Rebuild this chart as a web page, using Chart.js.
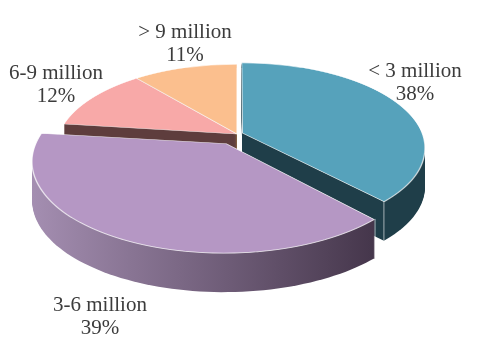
<!DOCTYPE html>
<html>
<head>
<meta charset="utf-8">
<script src="https://cdn.jsdelivr.net/npm/chart.js@4.4.0/dist/chart.umd.min.js"></script>
<style>
    html, body { margin: 0; padding: 0; background: #ffffff; }
    #wrap { width: 480px; height: 358px; position: relative; }
</style>
</head>
<body>
<div id="wrap"><canvas id="chart"></canvas></div>
<script>
// Household income groups and their share (%)
const categories = ['< 3 million', '3-6 million', '6-9 million', '> 9 million'];
const shares = [38, 39, 12, 11];

// Looks
const topColours = ['#56a2bb', '#b597c4', '#f8a9a8', '#fbbf8e'];
const wallColours = [
    ['#1f3e49', '#1f3e49'],
    ['#a48eb1', '#45364b'],
    ['#5e3d3d', '#5e3d3d'],
    ['#8b6744', '#8b6744'],
];
const explodePx = [6, 24, 0, 0];
// centre x and first baseline of every data label
const labelSpots = [[415, 77], [100, 311], [56, 79], [185, 38]];

const TILT = 0.445;       // vertical squash of the disc
const SQUASH_X = 0.968;   // horizontal scale at the centre
const PERSP = 0.000936;   // perspective strength (per pixel of depth)
const DEPTH = 39;         // thickness of the pie in pixels

// flat pie coordinates -> tilted screen coordinates
function project(x, y, cx, cy) {
    const v = y - cy;
    const q = 1 - PERSP * v;
    return [cx + (x - cx) * SQUASH_X / q, cy + TILT * v / q];
}

function unprojectY(Y, cy) {
    const dy = Y - cy;
    return dy / (TILT + PERSP * dy);
}

/**
 * Draw fn in one-pixel strips, each with the affine map that best fits
 * the perspective tilt there (canvas cannot do a projective map)
 */
function drawTilted(chart, cx, cy, yFrom, yTo, fn) {
    const ctx = chart.ctx;
    for (let Y0 = yFrom; Y0 < yTo; Y0++) {
        const Y1 = Y0 + 1;
        const v0 = unprojectY(Y0, cy);
        const v1 = unprojectY(Y1, cy);
        const vm = (v0 + v1) / 2;
        const m = SQUASH_X / (1 - PERSP * vm);
        const s = (Y1 - Y0) / (v1 - v0);
        ctx.save();
        ctx.beginPath();
        ctx.rect(0, Y0, chart.width, 1);
        ctx.clip();
        ctx.transform(m, 0, 0, s, cx * (1 - m), Y0 - s * (cy + v0));
        fn(ctx);
        ctx.restore();
    }
}

// same geometry ArcElement.draw uses for an offset slice
function sliceGeometry(arc) {
    const off = (arc.options.offset || 0) / 4;
    const mid = (arc.startAngle + arc.endAngle) / 2;
    const fix = 1 - Math.sin(Math.min(Math.PI, arc.circumference));
    return {
        x: arc.x + Math.cos(mid) * off,
        y: arc.y + Math.sin(mid) * off,
        r: arc.outerRadius + off * fix,
        mid,
    };
}

// projected outline of a slice's top face
function sliceOutline(arc, cx, cy) {
    const g = sliceGeometry(arc);
    const pts = [project(g.x, g.y, cx, cy)];
    const steps = 80;
    for (let t = 0; t <= steps; t++) {
        const a = arc.startAngle + (arc.endAngle - arc.startAngle) * t / steps;
        pts.push(project(g.x + g.r * Math.cos(a), g.y + g.r * Math.sin(a), cx, cy));
    }
    return pts;
}

const pie3d = {
    id: 'pie3d',
    beforeDatasetsDraw(chart) {
        const ctx = chart.ctx;
        const meta = chart.getDatasetMeta(0);
        const arcs = meta.data;
        const cx = arcs[0].x;
        const cy = arcs[0].y;

        // side walls, back slices first
        const order = arcs
            .map((arc, i) => i)
            .sort((a, b) => Math.sin(sliceGeometry(arcs[a]).mid) - Math.sin(sliceGeometry(arcs[b]).mid));

        let yMin = Infinity, yMax = -Infinity;
        for (const i of order) {
            const arc = arcs[i];
            const pts = sliceOutline(arc, cx, cy);
            const xs = pts.map((p) => p[0]);
            const ys = pts.map((p) => p[1]);
            yMin = Math.min(yMin, ...ys);
            yMax = Math.max(yMax, ...ys);
            const grad = ctx.createLinearGradient(Math.min(...xs), 0, Math.max(...xs), 0);
            grad.addColorStop(0, wallColours[i][0]);
            grad.addColorStop(1, wallColours[i][1]);
            ctx.save();
            ctx.fillStyle = grad;
            for (let d = DEPTH; d >= 1; d--) {
                ctx.beginPath();
                pts.forEach(([x, y], j) => (j ? ctx.lineTo(x, y + d) : ctx.moveTo(x, y + d)));
                ctx.closePath();
                ctx.fill();
            }
            // light vertical edges on the visible outer corners
            const g = sliceGeometry(arc);
            ctx.strokeStyle = 'rgba(255,255,255,0.6)';
            ctx.lineWidth = 1;
            for (const a of [arc.startAngle, arc.endAngle]) {
                if (Math.sin(a) < 0.05) continue;
                const [px, py] = project(g.x + g.r * Math.cos(a), g.y + g.r * Math.sin(a), cx, cy);
                ctx.beginPath();
                ctx.moveTo(px, py);
                ctx.lineTo(px, py + DEPTH);
                ctx.stroke();
            }
            ctx.restore();
        }

        // top faces, drawn by the chart itself
        drawTilted(chart, cx, cy, Math.floor(yMin) - 2, Math.ceil(yMax) + 2, () => meta.controller.draw());
        return false;
    },
    afterDraw(chart) {
        const ctx = chart.ctx;
        const total = shares.reduce((a, b) => a + b, 0);
        ctx.save();
        ctx.font = '21px "Liberation Serif", "Times New Roman", serif';
        ctx.fillStyle = '#3c3c3c';
        ctx.textAlign = 'center';
        ctx.textBaseline = 'alphabetic';
        categories.forEach((cat, i) => {
            const [x, y] = labelSpots[i];
            ctx.fillText(cat, x, y);
            ctx.fillText(Math.round(shares[i] / total * 100) + '%', x, y + 23);
        });
        ctx.restore();
    },
};

new Chart(document.getElementById('chart'), {
    type: 'pie',
    data: {
        labels: categories,
        datasets: [
            {
                data: shares,
                backgroundColor: topColours,
                borderColor: 'rgba(255,255,255,0.8)',
                borderWidth: 1.2,
                offset: explodePx.map((p) => p * 4),
                radius: 184,
                clip: false,
            },
        ],
    },
    plugins: [pie3d],
    options: {
        responsive: true,
        maintainAspectRatio: false,
        animation: false,
        events: [],
        layout: {
            padding: { left: 0, right: 6, top: 0, bottom: 90 },
        },
        plugins: {
            legend: { display: false },
            tooltip: { enabled: false },
        },
    },
});
</script>
</body>
</html>
